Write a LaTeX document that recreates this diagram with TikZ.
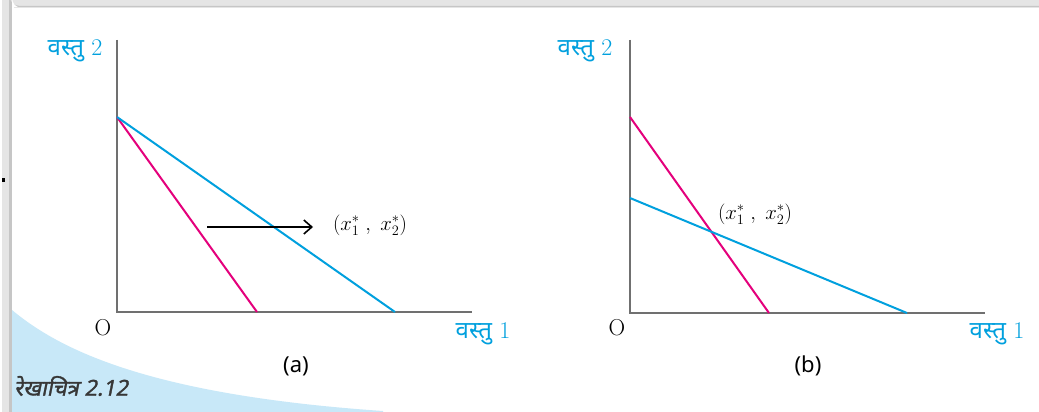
\documentclass[tikz,border=0pt]{standalone}
\usepackage{fontspec}
\setmainfont{Latin Modern Roman}
\newfontfamily\devfont[Script=Devanagari]{Noto Sans}
\newfontfamily\capfont[Script=Devanagari,FakeSlant=0.2,FakeBold=1.5]{Noto Sans}
\usetikzlibrary{arrows.meta}
\definecolor{axblue}{RGB}{0,160,222}
\definecolor{axmag}{RGB}{228,0,124}
\definecolor{axgray}{RGB}{112,112,112}
\definecolor{paleblue}{RGB}{200,232,248}
\definecolor{capgray}{RGB}{55,55,55}
\tikzset{
  axis/.style={draw=axgray, line width=2.2pt},
  magline/.style={draw=axmag, line width=2pt},
  blueline/.style={draw=axblue, line width=2pt},
  goodlbl/.style={text=axblue, font=\fontsize{24}{28}\selectfont, inner sep=0pt},
  olbl/.style={font=\fontsize{23}{26}\selectfont, inner sep=0pt},
  panellbl/.style={font=\devfont\fontsize{22}{26}\selectfont, inner sep=0pt},
  ptlbl/.style={font=\fontsize{22}{26}\selectfont, inner sep=0pt},
}
\begin{document}
\begin{tikzpicture}[x=1pt,y=-1pt]
\useasboundingbox (0,0) rectangle (1039,412);
% frame (left and top shadow bands, rounded at the top-left only)
\fill[white] (0,0) rectangle (1039,412);
\fill[gray!20] (1039,0) -- (16,0) arc[start angle=90, end angle=180, radius=14] -- (2,412) -- (1039,412) -- cycle;
\fill[gray!45] (1039,6) -- (20,6) arc[start angle=90, end angle=180, radius=11] -- (9,412) -- (1039,412) -- cycle;
\fill[white] (1039,8) -- (22,8) arc[start angle=90, end angle=180, radius=10] -- (12,412) -- (1039,412) -- cycle;
\fill[gray!20] (14,8) rectangle (1039,7);
\fill[paleblue] (12,310) .. controls (60,350) and (150,395) .. (383,411) -- (383,412) -- (12,412) -- cycle;
\fill[black] (1.5,177.5) rectangle (5,181.5);

% panel (a)
\coordinate (Oa) at (117,312);
\coordinate (Ya) at (117,40);
\coordinate (Xa) at (472,312);
\coordinate (Ta) at (117,117);
\coordinate (Ma) at (257,312);
\coordinate (Ba) at (395,312);
\coordinate (As) at (207,227);
\coordinate (Ae) at (313,227);
\draw[axis] (Ya) -- (Oa) -- (Xa);
\draw[magline] (Ta) -- (Ma);
\draw[blueline] (Ta) -- (Ba);
\draw[line width=1.6pt, -{Straight Barb[length=8pt,width=14pt,line width=1.6pt]}] (As) -- (Ae);
\node[goodlbl] (g2a) at (75,51) {{\devfont वस्तु}\hspace{0.3em}2};
\node[goodlbl] (g1a) at (483,334) {{\devfont वस्तु}\hspace{0.3em}1};
\node[olbl] (oa) at (103,328) {O};
\node[panellbl] (pa) at (296,366) {(a)};
\node[ptlbl] (la) at (370,225) {$(x_{1}^{*}\;,\; x_{2}^{*})$};

% panel (b)
\coordinate (Ob) at (630,313);
\coordinate (Yb) at (630,40);
\coordinate (Xb) at (985,313);
\coordinate (Tb) at (630,117);
\coordinate (Mb) at (769,313);
\coordinate (Sb) at (630,198);
\coordinate (Bb) at (907,313);
\draw[axis] (Yb) -- (Ob) -- (Xb);
\draw[magline] (Tb) -- (Mb);
\draw[blueline] (Sb) -- (Bb);
\node[goodlbl] (g2b) at (585,51) {{\devfont वस्तु}\hspace{0.3em}2};
\node[goodlbl] (g1b) at (997,334) {{\devfont वस्तु}\hspace{0.3em}1};
\node[olbl] (ob) at (617,328) {O};
\node[panellbl] (pb) at (808,366) {(b)};
\node[ptlbl] (lb) at (755,214) {$(x_{1}^{*}\;,\; x_{2}^{*})$};

% caption
\node[text=capgray, font=\capfont\fontsize{22}{26}\selectfont, inner sep=0pt, anchor=west] (cap) at (14,386) {रेखाचित्र 2.12};
\end{tikzpicture}
\end{document}
